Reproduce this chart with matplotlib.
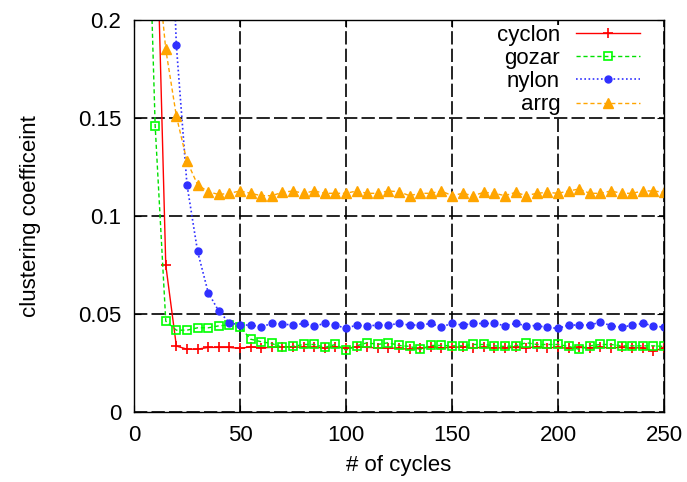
import numpy as np
import matplotlib.pyplot as plt

plt.rcParams['font.family'] = ['Liberation Sans', 'DejaVu Sans']

cycles = list(range(5, 255, 5))

cyclon = [0.45, 0.28, 0.075, 0.0337, 0.0321, 0.0321, 0.033, 0.033, 0.033, 0.0325,
          0.0333, 0.0328, 0.033, 0.0333, 0.0333, 0.033, 0.033, 0.0328, 0.0333, 0.0325,
          0.0333, 0.033, 0.0328, 0.0328, 0.0325, 0.032, 0.0325, 0.0333, 0.0328, 0.033,
          0.0333, 0.0328, 0.033, 0.0328, 0.0328, 0.033, 0.0328, 0.0333, 0.0328, 0.033,
          0.0325, 0.033, 0.0328, 0.033, 0.0328, 0.033, 0.0328, 0.0328, 0.031, 0.0328]

gozar = [0.33, 0.146, 0.0464, 0.0418, 0.0418, 0.043, 0.043, 0.044, 0.0445, 0.0435,
         0.0372, 0.0359, 0.035, 0.033, 0.0335, 0.0345, 0.0345, 0.033, 0.0345, 0.0316,
         0.0338, 0.0354, 0.0345, 0.0354, 0.034, 0.0335, 0.032, 0.034, 0.034, 0.0338,
         0.0338, 0.0345, 0.0345, 0.0338, 0.0335, 0.0338, 0.0354, 0.0345, 0.0345, 0.0345,
         0.0335, 0.032, 0.0338, 0.0345, 0.0345, 0.0338, 0.0338, 0.0338, 0.0338, 0.0335]

nylon = [0.6, 0.45, 0.33, 0.187, 0.116, 0.082, 0.061, 0.0515, 0.0456, 0.0444,
         0.0444, 0.0435, 0.0452, 0.0449, 0.0444, 0.0452, 0.0439, 0.0452, 0.0444, 0.0427,
         0.0444, 0.0439, 0.0444, 0.0444, 0.0452, 0.0444, 0.0444, 0.0452, 0.0435, 0.0452,
         0.0444, 0.0452, 0.0452, 0.0452, 0.0441, 0.0452, 0.0441, 0.0441, 0.0432, 0.0427,
         0.0444, 0.0444, 0.0444, 0.0459, 0.0441, 0.0432, 0.0444, 0.0452, 0.0441, 0.0432]

arrg = [0.4, 0.24, 0.185, 0.151, 0.128, 0.116, 0.1124, 0.111, 0.1116, 0.1128,
        0.1116, 0.1104, 0.1104, 0.1121, 0.1128, 0.1116, 0.1128, 0.1116, 0.1116, 0.1116,
        0.1128, 0.1116, 0.1116, 0.1128, 0.1124, 0.1104, 0.1116, 0.1116, 0.1128, 0.1104,
        0.1116, 0.1104, 0.1121, 0.1116, 0.1104, 0.1121, 0.1104, 0.1116, 0.1121, 0.1116,
        0.1128, 0.1138, 0.1116, 0.1116, 0.1128, 0.1116, 0.1116, 0.1128, 0.1128, 0.1121]

fig = plt.figure(figsize=(6.87, 4.82), dpi=100)
ax = fig.add_axes([0.195, 0.145, 0.7715, 0.8135])

ax.plot(cycles, cyclon, color="#ff0000", linestyle="-", linewidth=1.0,
        marker="+", markersize=7, markeredgewidth=1.2, label="cyclon")
ax.plot(cycles, gozar, color="#00e000", linestyle=(0, (3, 2)), linewidth=1.0,
        marker="s", markersize=6, markerfacecolor="none", markeredgewidth=1.2,
        markeredgecolor="#00ff00", label="gozar")
ax.plot(cycles, nylon, color="#3030ff", linestyle=(0, (1, 1.5)), linewidth=1.2,
        marker="o", markersize=5, label="nylon")
ax.plot(cycles, arrg, color="#ffa500", linestyle=(0, (3, 2)), linewidth=1.0,
        marker="^", markersize=6.5, label="arrg")

ax.set_xlim(0, 250)
ax.set_ylim(0, 0.2)
ax.set_xticks([0, 50, 100, 150, 200, 250])
ax.set_yticks([0, 0.05, 0.1, 0.15, 0.2])
ax.set_yticklabels(["0", "0.05", "0.1", "0.15", "0.2"])
ax.grid(True, color="black", linestyle=(0, (8, 2.5)), linewidth=1.2)
ax.set_axisbelow(True)
ax.tick_params(direction="in", length=5, top=True, right=True, labelsize=16, pad=9)
for s in ax.spines.values():
    s.set_linewidth(1.0)

ax.set_xlabel("# of cycles", fontsize=16, labelpad=7)
ax.set_ylabel("clustering coefficeint", fontsize=16, labelpad=27)

leg = ax.legend(loc="upper right", bbox_to_anchor=(0.955, 0.988),
                markerfirst=False, frameon=True, fontsize=16,
                handlelength=2.9, handletextpad=0.7, labelspacing=0.1,
                borderpad=0.0, borderaxespad=0.0, framealpha=1.0)
leg.get_frame().set_edgecolor("white")
leg.get_frame().set_linewidth(0)
leg.get_frame().set_boxstyle("square", pad=0)

fig.savefig("out.png", dpi=100)
